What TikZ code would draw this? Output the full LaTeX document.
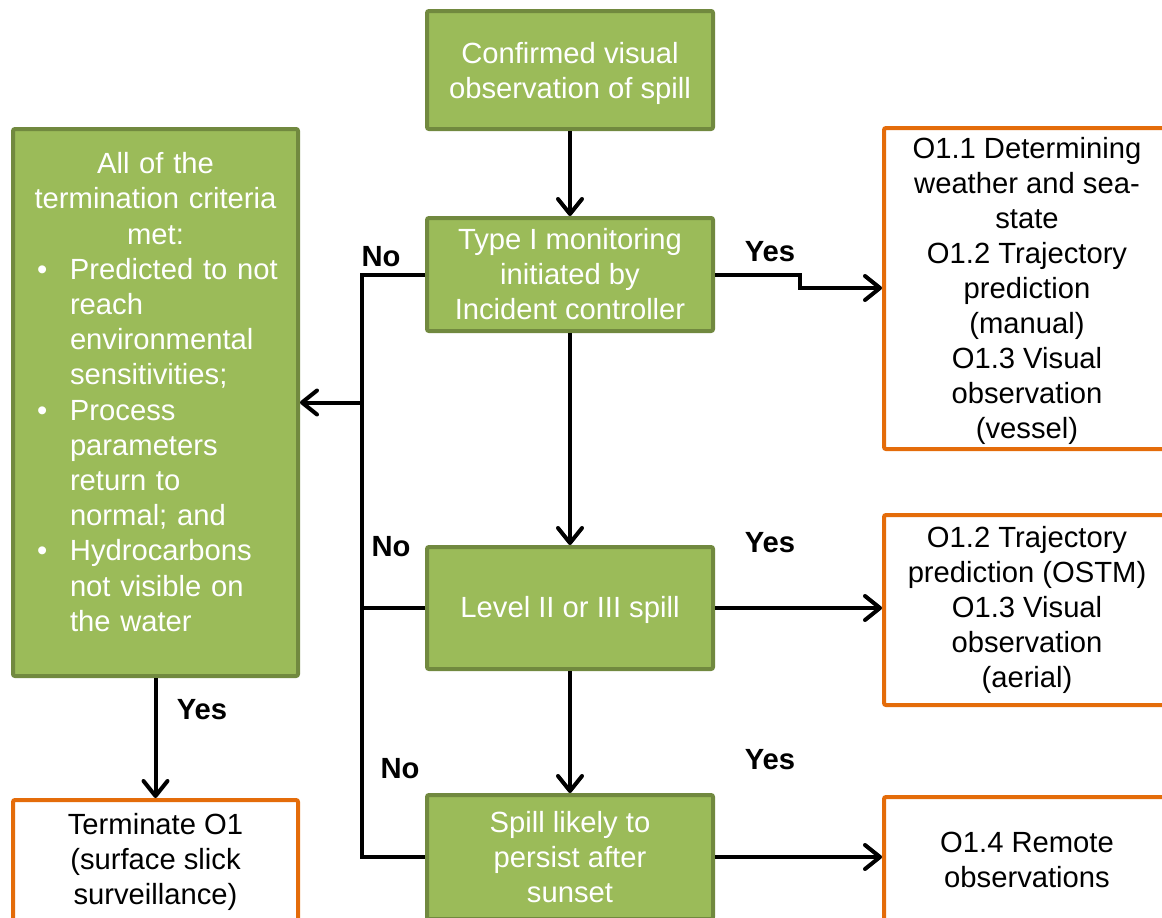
\documentclass[tikz,border=0pt]{standalone}
\usepackage{fontspec}
\setmainfont{Liberation Sans}
\usetikzlibrary{arrows.meta,calc}
\definecolor{gfill}{HTML}{9BBB59}
\definecolor{gline}{HTML}{71893F}
\definecolor{orng}{HTML}{E46C0A}
\begin{document}
\begin{tikzpicture}[x=1pt,y=-1pt,
  txt/.style={font=\fontsize{29.2}{35}\selectfont, align=center},
  gbox/.style={txt, draw=gline, fill=gfill, line width=4pt, text=white, rounded corners=2pt, inner sep=0pt},
  obox/.style={txt, draw=orng, fill=white, line width=4pt, text=black, rounded corners=2pt, inner sep=0pt},
  conn/.style={line width=4pt, black},
  arr/.style={conn, -{Straight Barb[length=15pt,width=24pt,round]}},
  lbl/.style={font=\bfseries\fontsize{29.2}{35}\selectfont, inner sep=0pt}]
\useasboundingbox (0,0) rectangle (1162,918);
\clip (0,0) rectangle (1162,918);

% centre column
\node[gbox, minimum width=286, minimum height=118] (obs) at (570,70) {\rule{0pt}{28pt}Confirmed visual\\observation of spill};
\node[gbox, minimum width=286, minimum height=113] (type) at (570,274.5) {Type I monitoring\\initiated by\\Incident controller};
\node[gbox, minimum width=286, minimum height=122] (lvl) at (570,608) {\rule{0pt}{26pt}Level II or III spill};
\node[gbox, minimum width=286, minimum height=124] (sun) at (570,857) {Spill likely to\\persist after\\sunset};

% left column
\node[gbox, minimum width=285, minimum height=547] (crit) at (155.5,402.5) {};
\node[text=white, font=\fontsize{29.2}{35.2}\selectfont, text width=271pt, inner sep=0pt, align=left] (crittext) at (155.5,392)
{\parindent=0pt{\centering All of the\\termination criteria\\met:\par}
\noindent\hangindent=50pt\hangafter=1\makebox[50pt][l]{\hspace{17pt}•}Predicted to not\newline reach\newline environmental\newline sensitivities;\par
\noindent\hangindent=50pt\hangafter=1\makebox[50pt][l]{\hspace{17pt}•}Process\newline parameters\newline return to\newline normal; and\par
\noindent\hangindent=50pt\hangafter=1\makebox[50pt][l]{\hspace{17pt}•}Hydrocarbons\newline not visible on\newline the water\par};
\node[obox, minimum width=285, minimum height=124] (term) at (155.5,862) {Terminate O1\\(surface slick\\surveillance)};

% right column
\node[obox, minimum width=286, minimum height=321] (r1) at (1027,288.5) {\rule{0pt}{26pt}O1.1 Determining\\weather and sea-\\state\\O1.2 Trajectory\\prediction\\(manual)\\O1.3 Visual\\observation\\(vessel)};
\node[obox, minimum width=286, minimum height=190] (r2) at (1027,610) {O1.2 Trajectory\\prediction (OSTM)\\O1.3 Visual\\observation\\(aerial)};
\node[obox, minimum width=286, minimum height=126] (r3) at (1027,860) {O1.4 Remote\\observations};

% connectors
\coordinate (bus) at (362,0);
\coordinate (step) at (800,288);
\draw[arr] (obs) -- (type);
\draw[arr] (type) -- (lvl);
\draw[arr] (lvl) -- (sun);
\draw[arr] (type.east) -| (step) -- (step -| r1.west);
\draw[arr] (lvl.east) -- (lvl.east -| r2.west);
\draw[arr] (sun.east) -- (sun.east -| r3.west);
\draw[conn] (type.west) -- (type.west -| bus) -- (sun.west -| bus) -- (sun.west);
\draw[conn] (lvl.west) -- (lvl.west -| bus);
\draw[arr] (bus |- crit.east) -- (crit.east);
\draw[arr] (crit.south) -- (term.north);

% labels
\node[lbl] (no1) at (381,257) {No};
\node[lbl] (no2) at (391,547) {No};
\node[lbl] (no3) at (400,769) {No};
\node[lbl] (yes1) at (770,252) {Yes};
\node[lbl] (yes2) at (770,543) {Yes};
\node[lbl] (yes3) at (770,760) {Yes};
\node[lbl] (yes4) at (202,710) {Yes};
\end{tikzpicture}
\end{document}
